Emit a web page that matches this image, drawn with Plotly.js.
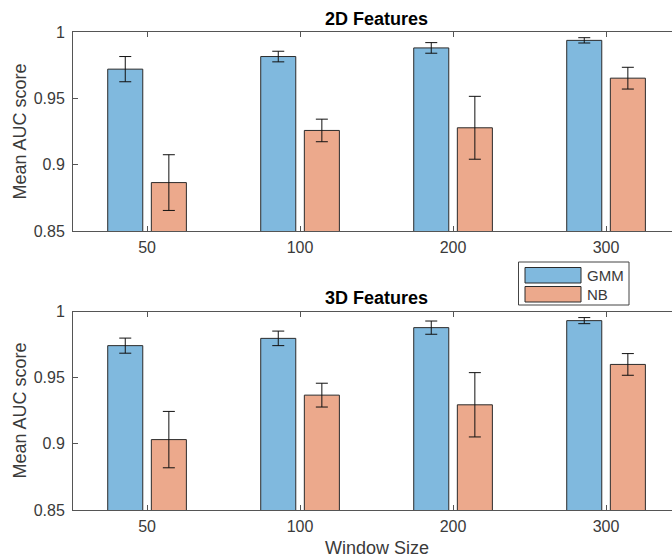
<!DOCTYPE html>
<html>
<head>
<meta charset="utf-8">
<script src="https://cdn.plot.ly/plotly-3.0.1.min.js"></script>
<style>html,body{margin:0;padding:0;background:#fff;}#chart{width:672px;height:559px;}</style>
</head>
<body>
<div id="chart"></div>
<script>
// ---- data ----
const windowSizes = ['50', '100', '200', '300'];
const seriesNames = ['GMM', 'NB'];
const panelTitles = ['2D Features', '3D Features'];

const gmm2D = [0.972, 0.9815, 0.988, 0.9937];
const gmm2DErr = [0.0095, 0.004, 0.004, 0.002];
const nb2D = [0.8865, 0.9258, 0.9278, 0.9652];
const nb2DErr = [0.021, 0.0085, 0.0237, 0.0082];

const gmm3D = [0.9742, 0.9797, 0.9878, 0.9931];
const gmm3DErr = [0.0057, 0.0055, 0.005, 0.0023];
const nb3D = [0.9032, 0.9368, 0.9295, 0.9600];
const nb3DErr = [0.0213, 0.009, 0.0243, 0.0082];

const yTickVals = [0.85, 0.9, 0.95, 1];
const yTickText = ['0.85', '0.9', '0.95', '1'];
const yLabel = 'Mean AUC score';
const xLabel = 'Window Size';

// ---- styles ----
const W = 672, H = 559, L = 73;
const blue = 'rgb(128,185,222)';
const orange = 'rgb(236,169,140)';
const edge = '#2b2b2b';
const axisColor = '#555555';
const textColor = '#3a3a3a';
const font = 'Liberation Sans, Arial, Helvetica, sans-serif';
const xIdx = [1, 2, 3, 4];

function px2x(px) { return (px - L) / (W - L); }
function py2y(py) { return 1 - py / H; }

function barTrace(y, err, color, name, xa, ya) {
  return {
    type: 'bar', x: xIdx, y: y, name: name, xaxis: xa, yaxis: ya,
    showlegend: false,
    marker: {color: color, line: {color: edge, width: 1}},
    error_y: {type: 'data', array: err, visible: true, color: '#111', thickness: 1, width: 6},
    hoverinfo: 'y'
  };
}

const traces = [
  barTrace(gmm2D, gmm2DErr, blue, seriesNames[0], 'x', 'y'),
  barTrace(nb2D, nb2DErr, orange, seriesNames[1], 'x', 'y'),
  barTrace(gmm3D, gmm3DErr, blue, seriesNames[0], 'x2', 'y2'),
  barTrace(nb3D, nb3DErr, orange, seriesNames[1], 'x2', 'y2')
];

const xRange = [0.516, 0.516 + (W - L) / 153];

function xAxis(anchor) {
  return {
    anchor: anchor, range: xRange, tickvals: xIdx, ticktext: windowSizes,
    showline: true, linecolor: axisColor, linewidth: 1, mirror: 'ticks',
    ticks: 'inside', ticklen: 5, tickcolor: axisColor, tickwidth: 1,
    ticklabelstandoff: 2,
    showgrid: false, zeroline: false,
    tickfont: {family: font, size: 16, color: textColor}, fixedrange: true
  };
}
function yAxis(anchor, domain) {
  return {
    anchor: anchor, domain: domain, range: [0.85, 1], tickvals: yTickVals, ticktext: yTickText,
    showline: true, linecolor: axisColor, linewidth: 1, mirror: false,
    ticks: 'inside', ticklen: 5, tickcolor: axisColor, tickwidth: 1,
    ticklabelstandoff: 4,
    showgrid: false, zeroline: false,
    tickfont: {family: font, size: 16, color: textColor}, fixedrange: true
  };
}

const annotations = [];
const titleY = [19, 298];
panelTitles.forEach((t, i) => {
  annotations.push({
    text: '<b>' + t + '</b>', xref: i === 0 ? 'x' : 'x2', x: 2.5, yref: 'paper', y: py2y(titleY[i]),
    showarrow: false, xanchor: 'center', yanchor: 'middle',
    font: {family: font, size: 18, color: '#000'}
  });
});
[131.5, 410.5].forEach(py => {
  annotations.push({
    text: yLabel, xref: 'paper', x: px2x(19), yref: 'paper', y: py2y(py),
    showarrow: false, textangle: -90, xanchor: 'center', yanchor: 'middle',
    font: {family: font, size: 18, color: textColor}
  });
});
annotations.push({
  text: xLabel, xref: 'x2', x: 2.5, yref: 'paper', y: py2y(547.5),
  showarrow: false, xanchor: 'center', yanchor: 'middle',
  font: {family: font, size: 18, color: textColor}
});

// manual legend
const shapes = [
  {type: 'rect', xref: 'paper', yref: 'paper', x0: px2x(518.5), x1: px2x(629), y0: py2y(305), y1: py2y(262),
   line: {color: '#444', width: 1}, fillcolor: '#fff'}
];
const legColors = [blue, orange];
const legTop = [267.5, 286.5];
seriesNames.forEach((n, i) => {
  shapes.push({type: 'rect', xref: 'paper', yref: 'paper', x0: px2x(525), x1: px2x(581),
    y0: py2y(legTop[i] + 15.5), y1: py2y(legTop[i]), line: {color: edge, width: 1}, fillcolor: legColors[i]});
  annotations.push({text: n, xref: 'paper', x: px2x(585), yref: 'paper', y: py2y(legTop[i] + 8),
    showarrow: false, xanchor: 'left', yanchor: 'middle', font: {family: font, size: 15, color: textColor}});
});

const layout = {
  width: W, height: H,
  margin: {l: L, r: 0, t: 0, b: 0},
  paper_bgcolor: '#fff', plot_bgcolor: '#fff',
  barmode: 'group', bargap: 0.43, bargroupgap: 0.196,
  showlegend: false,
  xaxis: xAxis('y'),
  yaxis: yAxis('x', [py2y(231), py2y(32)]),
  xaxis2: xAxis('y2'),
  yaxis2: yAxis('x2', [py2y(510), py2y(311.5)]),
  annotations: annotations,
  shapes: shapes
};

Plotly.newPlot('chart', traces, layout, {displayModeBar: false, staticPlot: true});
</script>
</body>
</html>
